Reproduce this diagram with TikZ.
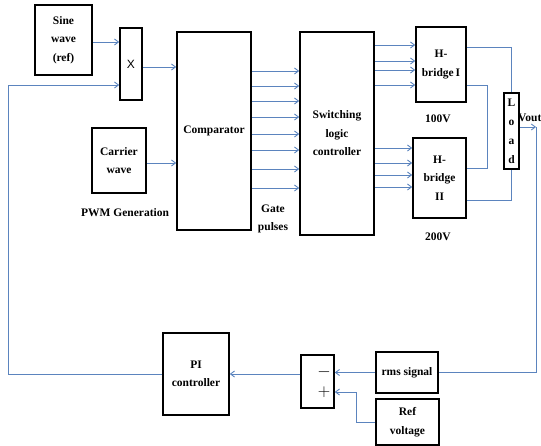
\documentclass[tikz,border=0pt]{standalone}
\usepackage{fontspec}
\setmainfont{Liberation Serif}
\newfontfamily\plainsans{Liberation Sans}
\usepackage{tikz}
\usetikzlibrary{arrows.meta,positioning,calc}

\definecolor{wireblue}{RGB}{91,132,190}

\begin{document}
\begin{tikzpicture}[x=1pt, y=-1pt,
    block/.style={draw, line width=1.6pt, inner sep=1pt, align=center,
        font=\fontsize{11.5}{18.5}\selectfont\bfseries},
    lbl/.style={inner sep=1pt, align=center, font=\fontsize{11.5}{18.5}\selectfont\bfseries},
    sign/.style={inner sep=0pt, font=\fontsize{17}{17}\selectfont},
    wire/.style={draw=wireblue, line width=0.9pt},
    arr/.style={wire, -{Straight Barb[length=4pt,width=6pt]}}]
    \useasboundingbox (0,0) rectangle (541,446);

    % PWM generation
    \node[block, minimum width=57pt, minimum height=70pt] (sine) at (63.5,40) {Sine\\wave\\(ref)};
    \node[block, minimum width=22pt, minimum height=72pt, font=\plainsans\fontsize{12}{14}\selectfont] (mult) at (131,64) {X};
    \node[block, minimum width=54pt, minimum height=65pt] (carrier) at (119,160.5) {Carrier\\wave};
    \node[lbl] (pwm) at (125,213) {PWM Generation};
    \node[block, minimum width=74pt, minimum height=198pt] (comp) at (214,131) {Comparator};
    \node[block, minimum width=74pt, minimum height=203pt] (switch) at (337,133.5) {Switching\\logic\\controller};
    \node[lbl] (gate) at (273,219) {Gate\\pulses};

    % inverter stage
    \node[block, minimum width=50pt, minimum height=75pt] (hb1) at (441,64.5) {H-\\bridge\,I};
    \node[lbl] (v100) at (438,119) {100V};
    \node[block, minimum width=53pt, minimum height=80pt] (hb2) at (439.5,178) {H-\\bridge\\II};
    \node[lbl] (v200) at (438,237) {200V};
    \node[block, minimum width=15pt, minimum height=76pt, font=\fontsize{11.5}{19}\selectfont\bfseries] (load) at (511.5,131) {L\\o\\a\\d};
    \coordinate (vout) at (536,127);
    \node[lbl, anchor=west, inner sep=0pt] (voutlbl) at (518,118) {Vout};

    % feedback loop
    \node[block, minimum width=66pt, minimum height=82pt] (pi) at (196,374) {PI\\controller};
    \node[block, minimum width=33pt, minimum height=53pt] (sum) at (317.5,381.5) {};
    \node[sign] (minus) at (324,372) {$-$};
    \node[sign] (plus) at (324,392) {$+$};
    \node[block, minimum width=62pt, minimum height=41pt] (rms) at (407,372.5) {rms signal};
    \node[block, minimum width=63pt, minimum height=46pt] (ref) at (407.5,422) {Ref\\voltage};
    \coordinate (fbturn) at (8,85);

    \draw[arr] (sine.east |- 0,42) -- (mult.west |- 0,42);
    \draw[arr] (mult.east |- 0,67) -- (comp.west |- 0,67);
    \draw[arr] (carrier.east |- 0,163) -- (comp.west |- 0,163);
    \foreach \y in {71,86,101,117,134,150,169,188}
        \draw[arr] (comp.east |- 0,\y) -- (switch.west |- 0,\y);
    \foreach \y in {45,61,70,85}
        \draw[arr] (switch.east |- 0,\y) -- (hb1.west |- 0,\y);
    \foreach \y in {148,163,175,187}
        \draw[arr] (switch.east |- 0,\y) -- (hb2.west |- 0,\y);

    \draw[wire] (hb1.east |- 0,47) -| (load.north);
    \draw[wire] (hb1.east |- 0,85) -- ++(21,0) |- (hb2.east |- 0,168);
    \draw[wire] (hb2.east |- 0,200) -| (load.south);
    \draw[arr] (load.east |- vout) -- (vout);
    \draw[wire] (vout) |- (rms.east);

    \draw[arr] (rms.west) -- (rms.west -| sum.east);
    \draw[arr] (ref.west) -- ++(-19,0) |- (sum.east |- plus);
    \draw[arr] (sum.west |- pi.east) -- (pi.east);
    \draw[arr] (pi.west) -| (fbturn) -- (fbturn -| mult.west);
\end{tikzpicture}
\end{document}
